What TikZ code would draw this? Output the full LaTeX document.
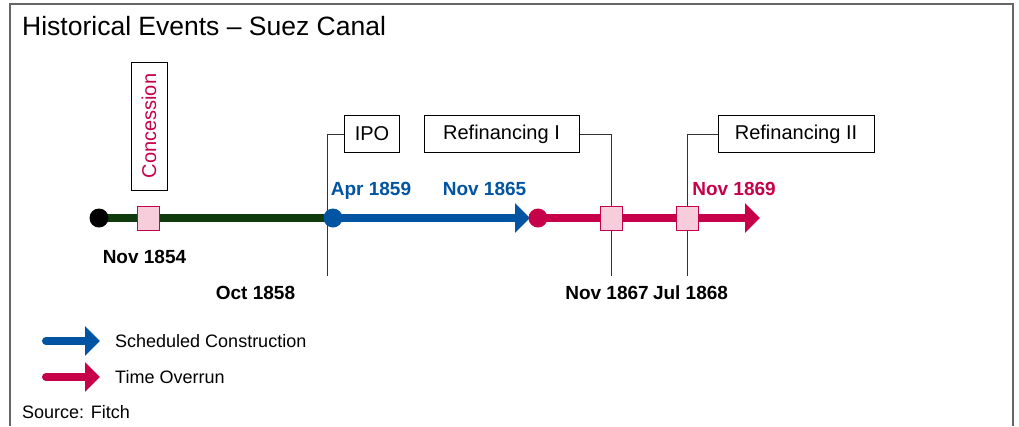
\documentclass[tikz,border=0pt]{standalone}
\usepackage{fontspec}
\setmainfont{Liberation Sans}
\usepackage{tikz}
\usetikzlibrary{arrows.meta,positioning,backgrounds}
\definecolor{suezgreen}{rgb}{0.06,0.23,0.06}
\definecolor{suezblue}{rgb}{0.00,0.33,0.63}
\definecolor{suezred}{rgb}{0.78,0.00,0.29}
\definecolor{suezpink}{rgb}{0.97,0.80,0.86}
\definecolor{framegray}{gray}{0.40}

\begin{document}
\begin{tikzpicture}[
        x=1pt,y=-1pt,
        dot/.style={circle,inner sep=0pt,minimum size=19pt},
        milestone/.style={rectangle,draw=suezred,fill=suezpink,line width=0.8pt,
                    minimum width=22pt,minimum height=24pt,inner sep=0pt},
        event/.style={rectangle,draw=black,line width=0.8pt,fill=white,
                    minimum height=37pt,inner sep=0pt,font=\fontsize{20}{24}\selectfont},
        date/.style={anchor=base,inner sep=0pt,font=\bfseries\fontsize{19}{22}\selectfont},
        legend/.style={anchor=base west,inner sep=0pt,font=\fontsize{18}{22}\selectfont},
        track/.style={line width=8.5pt},
        tip/.style={-{Triangle[length=15pt,width=29pt]}},
        callout/.style={draw=black!80,line width=0.8pt}
      ]
        \useasboundingbox (0,0) rectangle (1019,426);
        \draw[framegray,line width=1.2pt] (10,426) -- (10,4) -- (1013,4) -- (1013,426);
        \node[anchor=base west,inner sep=0pt,font=\fontsize{26.5}{30}\selectfont] (title)
          at (22,35) {Historical Events – Suez Canal};

        % timeline
        \node[dot,fill=black] (nov54) at (99,218) {};
        \node[dot,fill=suezblue] (apr59pt) at (333,218) {};
        \node[dot,fill=suezred] (nov65pt) at (538,218) {};
        \coordinate (blueend) at (530,218);
        \coordinate (redend) at (760,218);
        \node[milestone] (conc) at (148,218) {};
        \node[milestone] (ref1) at (611,218) {};
        \node[milestone] (ref2) at (687,218) {};

        % event boxes
        \node[event,rotate=90,minimum width=128pt,minimum height=36pt,text=suezred]
          (concbox) at (149,126) {Concession};
        \node[event,minimum width=55pt] (ipobox) at (372,134) {IPO};
        \node[event,minimum width=155pt] (ref1box) at (501.5,134) {Refinancing I};
        \node[event,minimum width=156pt] (ref2box) at (796,134) {Refinancing II};
        \coordinate (ipofoot) at (327,276);
        \coordinate (ref1foot) at (611,276);
        \coordinate (ref2foot) at (687,276);

        \begin{scope}[on background layer]
          \draw[callout] (ipobox.west) -| (ipofoot);
          \draw[callout] (ref1box.east) -| (ref1foot);
          \draw[callout] (ref2box.west) -| (ref2foot);
          \draw[track,suezgreen] (nov54.center) -- (apr59pt.center);
          \draw[track,tip,suezblue] (apr59pt.center) -- (blueend);
          \draw[track,tip,suezred] (nov65pt.center) -- (redend);
        \end{scope}

        % dates
        \node[date,text=suezblue] (apr59) at (371,195) {Apr 1859};
        \node[date,text=suezblue] (nov65) at (484.5,195) {Nov 1865};
        \node[date,text=suezred] (nov69) at (734,195) {Nov 1869};
        \node[date] (nov54lbl) at (144.5,263) {Nov 1854};
        \node[date] (oct58) at (255.5,299) {Oct 1858};
        \node[date] (nov67) at (607,299) {Nov 1867};
        \node[date] (jul68) at (690.5,299) {Jul 1868};

        % legend
        \coordinate (lgblue0) at (46,341);
        \coordinate (lgblue1) at (100,341);
        \coordinate (lgred0) at (46,377);
        \coordinate (lgred1) at (100,377);
        \draw[track,line width=8pt,line cap=round,tip,suezblue] (lgblue0) -- (lgblue1);
        \draw[track,line width=8pt,line cap=round,tip,suezred] (lgred0) -- (lgred1);
        \node[legend] (lgbluetxt) at (115,347) {Scheduled Construction};
        \node[legend] (lgredtxt) at (115,383) {Time Overrun};
        \node[legend] (source) at (22,418) {Source: Fitch};
      \end{tikzpicture}
\end{document}
